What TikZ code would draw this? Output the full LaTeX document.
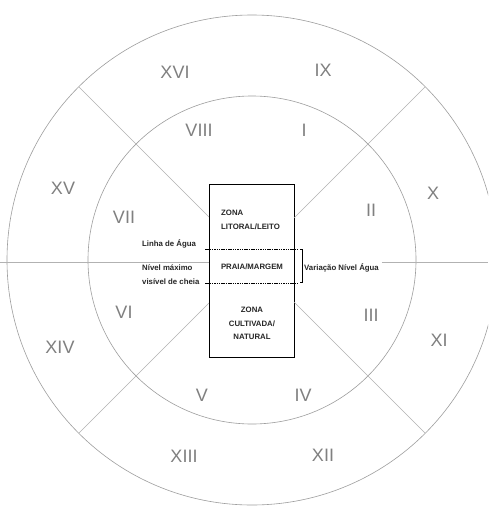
\documentclass[tikz,border=0pt]{standalone}
\usepackage{fontspec}
\setmainfont{Liberation Sans}
\usetikzlibrary{calc}
\begin{document}
\begin{tikzpicture}[x=1pt,y=-1pt,
  ring/.style={draw=black!38,line width=0.6pt},
  ray/.style={draw=black!30,line width=0.6pt},
  num/.style={text=black!50,font=\fontsize{18}{18}\selectfont,inner sep=0pt},
  lbl/.style={font=\fontsize{7.8}{14}\selectfont\bfseries,inner sep=0pt,text=black!85},
  zone/.style={draw=black,line width=0.7pt,inner sep=0pt},
  lvl/.style={draw=black,line width=0.7pt,dash pattern=on 1.5pt off 0.8pt}]
\useasboundingbox (0,0) rectangle (488,506);
\clip (0,0) rectangle (488,506);
\fill[white] (0,0) rectangle (488,506);
\coordinate (c) at (252,260);
% rings
\draw[ring] (c) circle[radius=164];
\draw[ring] (c) circle[radius=245];
% central box
\node[zone,minimum width=85pt,minimum height=173pt] (box) at (251.5,270.5) {};
% radial lines
\draw[ray] (209,217) -- ($(c)+(-173,-173)$);
\draw[ray] (294,218) -- ($(c)+(173,-173)$);
\draw[ray] (209,303) -- ($(c)+(-173,173)$);
\draw[ray] (294,302) -- ($(c)+(173,173)$);
% horizontal axis
\coordinate (hl) at (0,262);
\coordinate (hr) at (488,262);
\draw[ray] (hl) -- (box.west |- hl);
% water levels
\coordinate (wl1) at (205,249);
\coordinate (wl2) at (298,249);
\coordinate (fl1) at (205,283);
\coordinate (fl2) at (298,283);
\draw[lvl] (wl1) -- (wl2);
\draw[lvl] (fl1) -- (fl2);
\coordinate (b1) at (302,249);
\coordinate (b2) at (302,282);
\draw[black,line width=0.6pt] ($(b1)+(-2,0)$) -- (b1) -- (b2) -- ($(b2)+(-2,0)$);
% box texts
\node[lbl,anchor=west,align=left] (lit) at (221,219.5) {ZONA\\LITORAL/LEITO};
\node[lbl] (praia) at (252,267) {PRAIA/MARGEM};
\node[lbl,align=center,font=\fontsize{7.8}{13.5}\selectfont\bfseries] (cult) at (252,323.5) {ZONA\\CULTIVADA/\\NATURAL};
% side labels
\node[lbl,anchor=west] (linha) at (142,244) {Linha de Água};
\node[lbl,anchor=west,align=left] (nivel) at (142,275) {Nível máximo\\visível de cheia};
\node[lbl,anchor=west] (var) at (304,268) {Variação Nível Água};
\draw[ray] ($(var.east |- hr)+(3,0)$) -- (hr);
% roman numerals
\node[num] (n16) at (175,72) {XVI};
\node[num] (n9) at (323,70) {IX};
\node[num] (n8) at (199,130) {VIII};
\node[num] (n1) at (304,130) {I};
\node[num] (n15) at (63,188) {XV};
\node[num] (n10) at (433,193) {X};
\node[num] (n7) at (124,217) {VII};
\node[num] (n2) at (371,210) {II};
\node[num] (n6) at (124,312) {VI};
\node[num] (n3) at (371,315) {III};
\node[num] (n14) at (60,347) {XIV};
\node[num] (n11) at (439,340) {XI};
\node[num] (n5) at (202,395) {V};
\node[num] (n4) at (303,395) {IV};
\node[num] (n13) at (184,456) {XIII};
\node[num] (n12) at (323,455) {XII};
\end{tikzpicture}
\end{document}
